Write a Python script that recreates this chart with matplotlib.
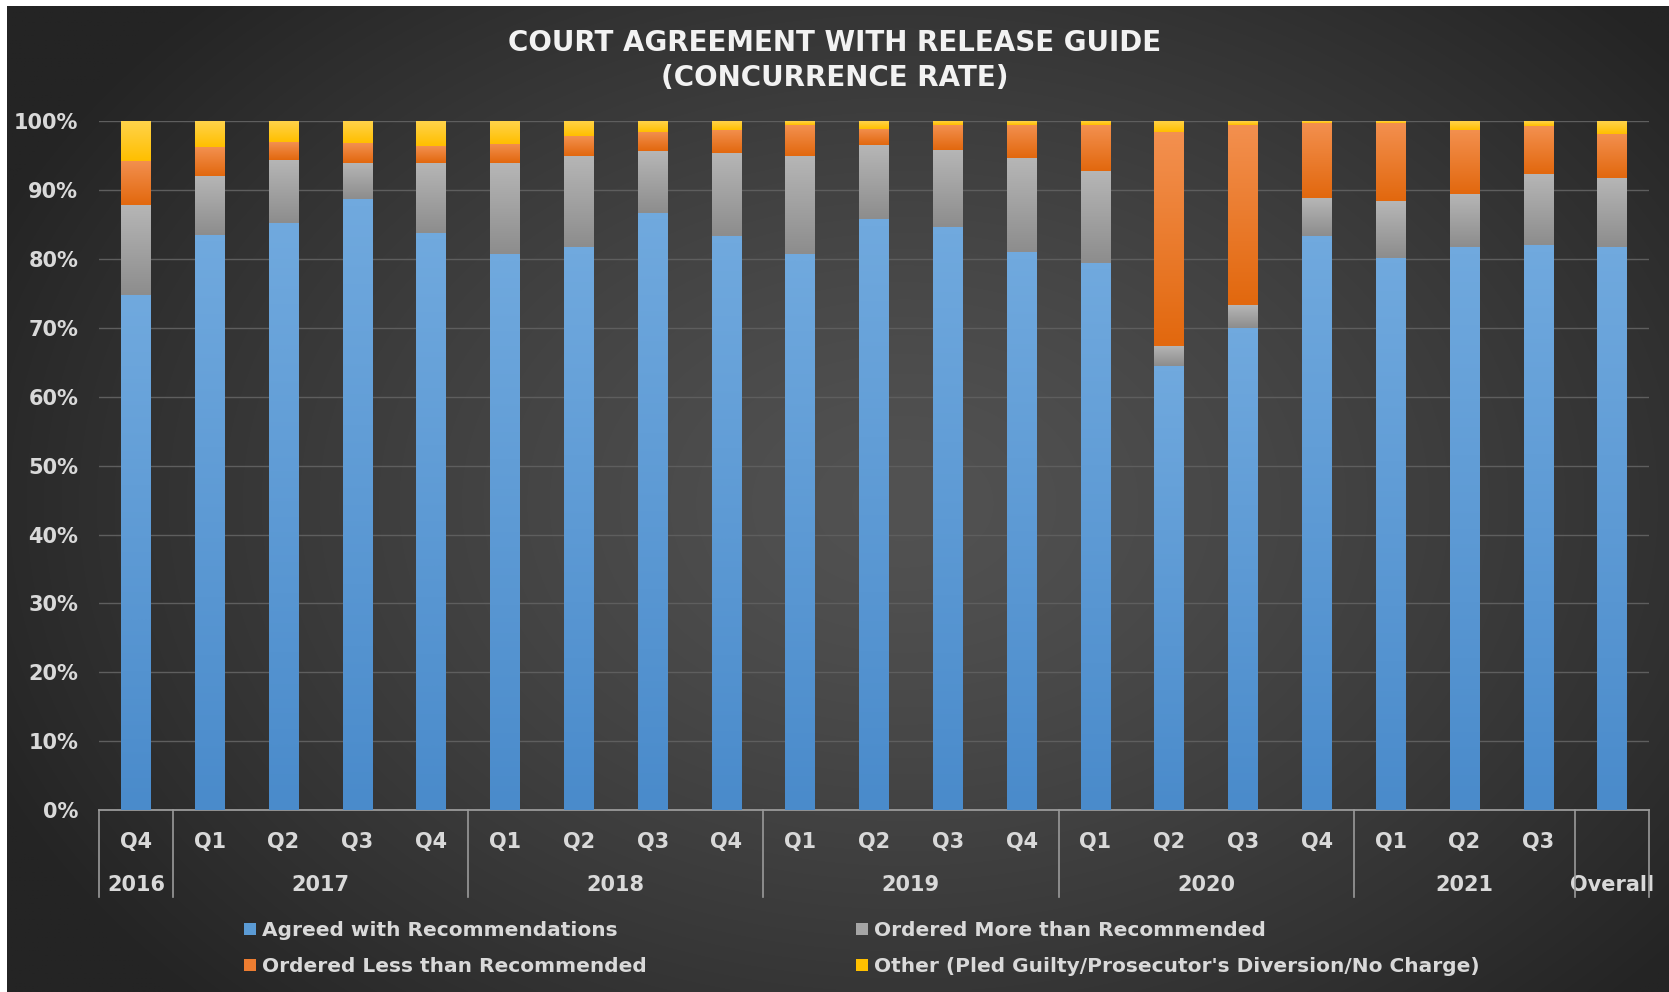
import numpy as np
import matplotlib
matplotlib.use('Agg')
import matplotlib.pyplot as plt
from matplotlib.patches import Patch
from matplotlib.colors import LinearSegmentedColormap
import matplotlib.transforms as mtransforms

# ---------------- data ----------------
quarters = ['Q4', 'Q1', 'Q2', 'Q3', 'Q4', 'Q1', 'Q2', 'Q3', 'Q4', 'Q1', 'Q2',
            'Q3', 'Q4', 'Q1', 'Q2', 'Q3', 'Q4', 'Q1', 'Q2', 'Q3', '']
years = ['2016', '2017', '2018', '2019', '2020', '2021', 'Overall']
year_sizes = [1, 4, 4, 4, 4, 3, 1]

agreed = [74.8, 83.5, 85.2, 88.7, 83.8, 80.7, 81.7, 86.7, 83.3, 80.7, 85.8,
          84.6, 81.0, 79.4, 64.4, 70.0, 83.4, 80.2, 81.7, 82.0, 81.7]
more = [13.1, 8.6, 9.2, 5.3, 10.2, 13.2, 13.3, 9.0, 12.1, 14.3, 10.7,
        11.3, 13.6, 13.4, 3.0, 3.3, 5.5, 8.2, 7.8, 10.4, 10.1]
less = [6.4, 4.2, 2.6, 2.9, 2.4, 2.8, 2.8, 2.8, 3.4, 4.5, 2.4,
        3.5, 4.9, 6.6, 31.0, 26.2, 10.9, 11.4, 9.3, 6.9, 6.4]
other = [5.7, 3.7, 3.0, 3.1, 3.6, 3.3, 2.2, 1.5, 1.2, 0.5, 1.1,
         0.6, 0.5, 0.6, 1.6, 0.5, 0.2, 0.2, 1.2, 0.7, 1.8]

series_names = ['Agreed with Recommendations', 'Ordered More than Recommended',
                'Ordered Less than Recommended',
                "Other (Pled Guilty/Prosecutor's Diversion/No Charge)"]
series_vals = [agreed, more, less, other]
# (top colour, bottom colour, legend colour)
series_cols = [('#70a9de', '#4a8bcb', '#5b9bd5'),
               ('#b6b6b6', '#8d8d8d', '#a5a5a5'),
               ('#f3904f', '#e2680e', '#ed7d31'),
               ('#ffd34a', '#ffbf00', '#ffc000')]

TXT = '#d9d9d9'
FONT = 'DejaVu Sans'

W, H = 1669, 992
fig = plt.figure(figsize=(W / 100, H / 100), dpi=100, facecolor='white')

# ---------------- background gradient ----------------
bg_ax = fig.add_axes([7 / W, 0, 1 - 7 / W, 1 - 6 / H], zorder=-10)
bg_ax.set_axis_off()
yy, xx = np.mgrid[0:H, 0:W]
d = np.sqrt(((xx - 900) / 1000.0) ** 2 + ((yy - 500) / 720.0) ** 2)
d = np.clip(d, 0, 1)
c_in, c_out = 0x52 / 255, 0x24 / 255
v = c_in + (c_out - c_in) * d ** 1.3
bg = np.dstack([v, v, v])
bg_ax.imshow(bg, aspect='auto', extent=[0, 1, 0, 1], interpolation='bilinear')
bg_ax.set_xlim(0, 1)
bg_ax.set_ylim(0, 1)

# ---------------- main axes ----------------
left, right = 99 / W, 1649 / W
bottom, top = 1 - 810 / H, 1 - 121.3 / H
ax = fig.add_axes([left, bottom, right - left, top - bottom])
ax.patch.set_alpha(0)
n = len(agreed)
x = np.arange(n)
ax.set_xlim(-0.5, n - 0.5)
ax.set_ylim(0, 100)

bw = 0.40
base = np.zeros(n)
for vals, (ctop, cbot, cleg) in zip(series_vals, series_cols):
    bars = ax.bar(x, vals, bw, bottom=base, color=cleg, edgecolor='none', zorder=3)
    cmap = LinearSegmentedColormap.from_list('g', [cbot, ctop])
    for p in bars.patches:
        px, py, pw, ph = p.get_x(), p.get_y(), p.get_width(), p.get_height()
        if ph <= 0:
            continue
        im = ax.imshow(np.linspace(0, 1, 64).reshape(-1, 1), origin='lower',
                       extent=[px, px + pw, py, py + ph], cmap=cmap,
                       aspect='auto', interpolation='bilinear', zorder=3.5)
        im.set_clip_path(p)
    base = base + np.array(vals)

ax.set_xlim(-0.5, n - 0.5)
ax.set_ylim(0, 100)

# grid
ax.set_yticks(np.arange(0, 101, 10))
ax.set_yticklabels([f'{t}%' for t in range(0, 101, 10)])
ax.yaxis.grid(True, color='#5e5e5e', lw=1.0, zorder=0)
ax.set_axisbelow(True)
for s in ['top', 'right', 'left']:
    ax.spines[s].set_visible(False)
ax.spines['bottom'].set_color('#9a9a9a')
ax.spines['bottom'].set_linewidth(1.3)
ax.tick_params(axis='y', length=0, pad=15, labelsize=15, labelcolor=TXT)
ax.tick_params(axis='x', length=0, pad=16, labelsize=15, labelcolor=TXT)
ax.set_xticks(x)
ax.set_xticklabels(quarters)
for lab in ax.get_xticklabels() + ax.get_yticklabels():
    lab.set_fontweight('bold')
    lab.set_family(FONT)

# year labels and separators
trans = mtransforms.blended_transform_factory(ax.transData, ax.transAxes)
ax_h = 810 - 121.3
start = -0.5
seps = [start]
for yr, sz in zip(years, year_sizes):
    cx = start + sz / 2.0
    ax.text(cx, -75 / ax_h, yr, transform=trans, ha='center', va='center',
            fontsize=15, fontweight='bold', color=TXT, family=FONT)
    start += sz
    seps.append(start)
for sx in seps:
    ax.plot([sx, sx], [0, -87 / ax_h], transform=trans, color='#9a9a9a',
            lw=1.2, clip_on=False, zorder=5)

# title
fig.text(0.5, 1 - 60.5 / H, 'COURT AGREEMENT WITH RELEASE GUIDE\n(CONCURRENCE RATE)',
         ha='center', va='center', fontsize=20, fontweight='bold', color='#f2f2f2',
         family=FONT, linespacing=1.35)

# legend
handles = [Patch(facecolor=c[2], edgecolor='none') for c in series_cols]
kw = dict(frameon=False, labelcolor=TXT, handlelength=0.6,
          handleheight=0.6, handletextpad=0.3, labelspacing=0.85,
          borderpad=0, borderaxespad=0,
          prop={'weight': 'bold', 'family': FONT, 'size': 14.5})
leg1 = fig.legend([handles[0], handles[2]], [series_names[0], series_names[2]],
                  loc='upper left', bbox_to_anchor=(244 / W, 1 - 921 / H), **kw)
leg2 = fig.legend([handles[1], handles[3]], [series_names[1], series_names[3]],
                  loc='upper left', bbox_to_anchor=(856 / W, 1 - 921 / H), **kw)

fig.savefig('out.png', dpi=100, facecolor='white')
